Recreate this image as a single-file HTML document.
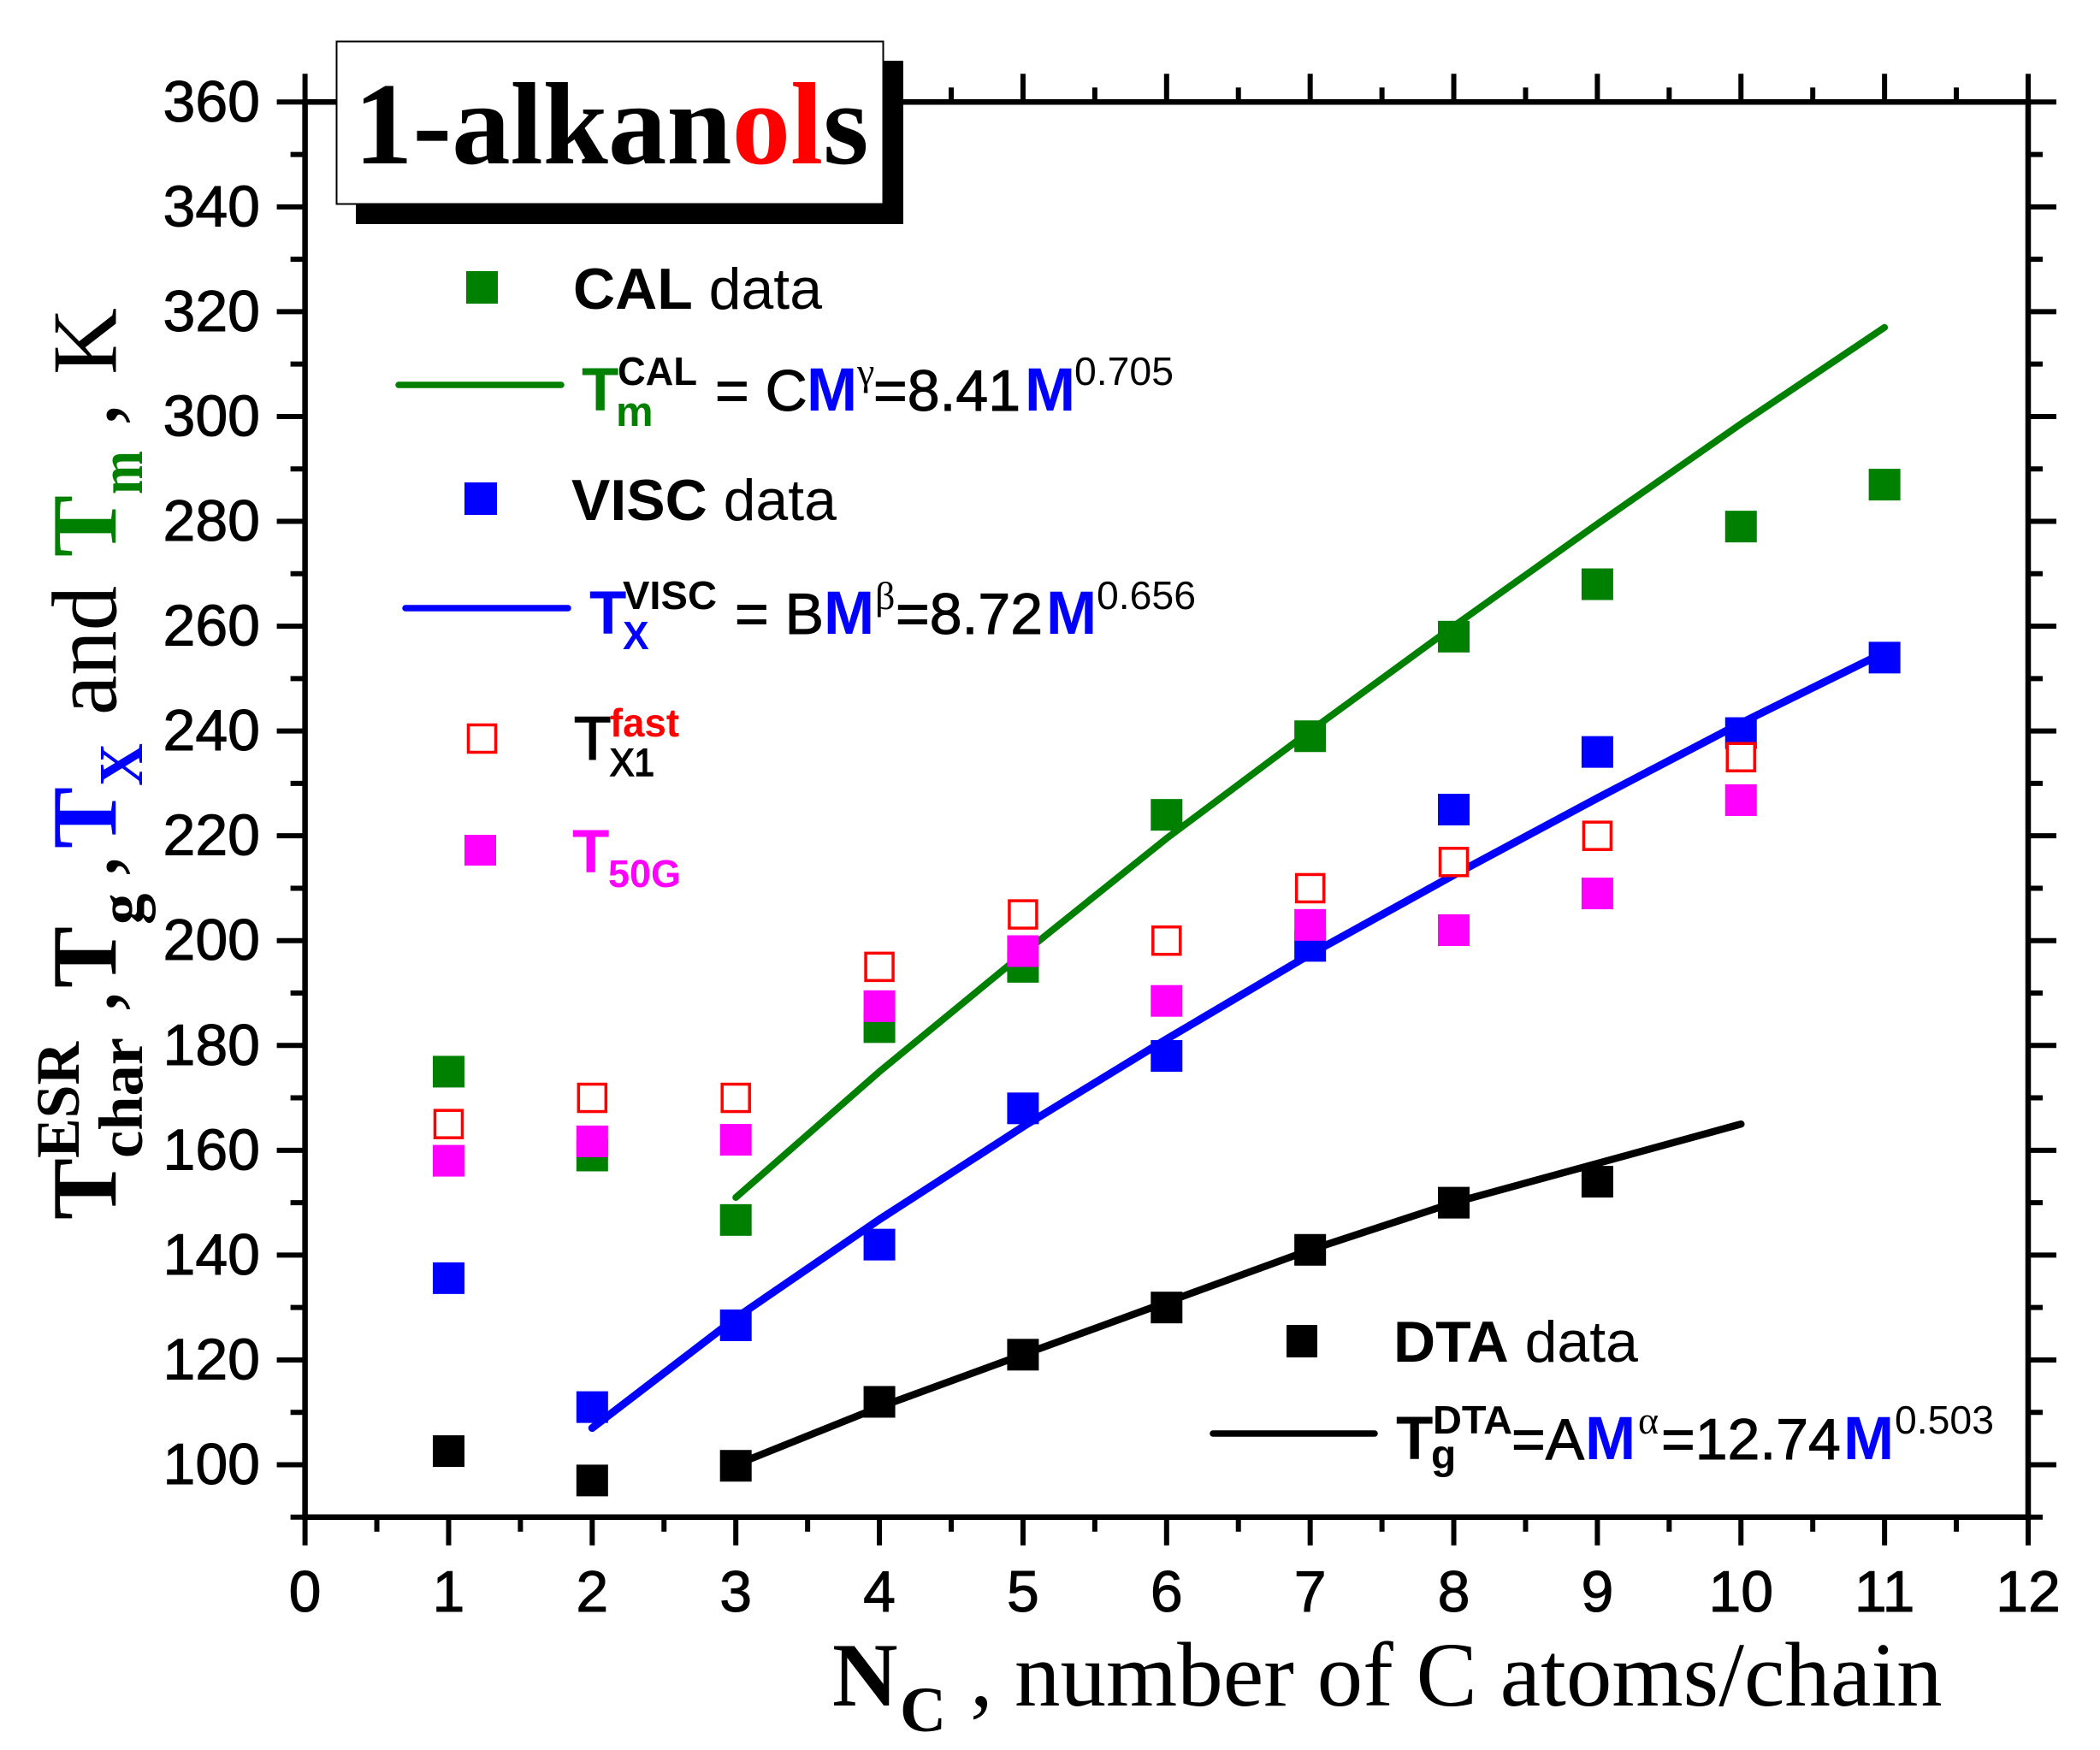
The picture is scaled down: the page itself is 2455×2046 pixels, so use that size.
<!DOCTYPE html>
<html lang="en">
<head>
<meta charset="utf-8">
<title>1-alkanols characteristic temperatures</title>
<style>
html,body{margin:0;padding:0;background:#fff;width:2455px;height:2046px;overflow:hidden}
svg{display:block}
.s{font-family:"Liberation Sans",Arial,sans-serif}
.r{font-family:"Liberation Serif","Times New Roman",serif}
.b{font-weight:bold}
.h{stroke:#000;stroke-width:1}
.h2{stroke:#000;stroke-width:1.6}
</style>
</head>
<body>
<svg id="chart" xmlns="http://www.w3.org/2000/svg" width="2455" height="2046" viewBox="0 0 2455 2046">
<rect width="2455" height="2046" fill="#fff"/>
<g id="axes"></g>
<g id="lines"></g>
<g id="marks"></g>

<g>
  <rect x="416" y="71" width="640" height="191" fill="#000"/>
  <rect x="393.5" y="48.5" width="639" height="190" fill="#fff" stroke="#000" stroke-width="2"/>
  <text class="r b" x="414" y="191" font-size="137" fill="#000">1-alkan<tspan fill="#f00">ol</tspan>s</text>
</g>

<g font-size="108">
  <text class="r b" transform="rotate(-90)" x="-1426" y="135.5">T</text>
  <text class="r b" transform="rotate(-90)" x="-1354" y="92" font-size="72" textLength="136" lengthAdjust="spacingAndGlyphs">ESR</text>
  <text class="r b" transform="rotate(-90)" x="-1354" y="166" font-size="73" textLength="141" lengthAdjust="spacingAndGlyphs">char</text>
  <text class="r" transform="rotate(-90)" x="-1184" y="135.5">,</text>
  <text class="r b" transform="rotate(-90)" x="-1155" y="135.5">T</text>
  <text class="r b" transform="rotate(-90)" x="-1081" y="166" font-size="73">g</text>
  <text class="r" transform="rotate(-90)" x="-1026" y="135.5">,</text>
  <text class="r b" fill="#00f" transform="rotate(-90)" x="-992" y="135.5">T</text>
  <text class="r b" fill="#00f" transform="rotate(-90)" x="-919" y="166" font-size="73" textLength="50" lengthAdjust="spacingAndGlyphs">X</text>
  <text class="r" transform="rotate(-90)" x="-836" y="135.5" textLength="151" lengthAdjust="spacingAndGlyphs">and</text>
  <text class="r b" fill="#008000" transform="rotate(-90)" x="-651" y="135.5">T</text>
  <text class="r b" fill="#008000" transform="rotate(-90)" x="-578" y="166" font-size="73" textLength="51" lengthAdjust="spacingAndGlyphs">m</text>
  <text class="r" transform="rotate(-90)" x="-498" y="135.5">,</text>
  <text class="r" transform="rotate(-90)" x="-438" y="135.5">K</text>
</g>

<g class="r">
  <text class="r b" x="973" y="1994" font-size="106">N</text>
  <text class="r b" x="1052" y="2024" font-size="75">C</text>
  <text class="r" x="1134" y="1994" font-size="107">,</text>
  <text class="r" x="1186" y="1994" font-size="107">number of C atoms/chain</text>
</g>

<g class="s" fill="#000">
  <rect x="545" y="317" width="37" height="38" fill="#008000"/>
  <text class="s" x="670" y="361" font-size="68"><tspan font-weight="bold">CAL</tspan> data</text>
  <line x1="466" y1="450" x2="656" y2="450" stroke="#008000" stroke-width="7.5" stroke-linecap="round"/>
  <text class="s b" x="680" y="480" font-size="71" fill="#008000">T</text>
  <text class="s b" x="722" y="450" font-size="46" textLength="93" lengthAdjust="spacingAndGlyphs">CAL</text>
  <text class="s b" x="720" y="498" font-size="49" fill="#008000">m</text>
  <text class="s h" x="836" y="480" font-size="68">= C</text>
  <text class="s b" x="943" y="480" font-size="71" fill="#00f">M</text>
  <text class="r" x="1002" y="450" font-size="46">γ</text>
  <text class="s h" x="1021" y="480" font-size="68">=8.41</text>
  <text class="s b" x="1198" y="480" font-size="71" fill="#00f">M</text>
  <text class="s" x="1256" y="450" font-size="46" textLength="116" lengthAdjust="spacingAndGlyphs">0.705</text>
</g>

<g class="s" fill="#000">
  <rect x="543" y="564" width="38" height="38" fill="#00f"/>
  <text class="s" x="668" y="608" font-size="68"><tspan font-weight="bold">VISC</tspan> data</text>
  <line x1="474" y1="711" x2="664" y2="711" stroke="#00f" stroke-width="7.5" stroke-linecap="round"/>
  <text class="s b" x="689" y="741" font-size="71" fill="#00f">T</text>
  <text class="s b" x="728" y="712" font-size="46" textLength="110" lengthAdjust="spacingAndGlyphs">VISC</text>
  <text class="s b" x="728" y="759" font-size="46" fill="#00f">X</text>
  <text class="s h" x="859" y="741" font-size="68">= B</text>
  <text class="s b" x="963" y="741" font-size="71" fill="#00f">M</text>
  <text class="r" x="1023" y="712" font-size="46">β</text>
  <text class="s h" x="1047" y="741" font-size="68">=8.72</text>
  <text class="s b" x="1223" y="741" font-size="71" fill="#00f">M</text>
  <text class="s" x="1282" y="712" font-size="46" textLength="116" lengthAdjust="spacingAndGlyphs">0.656</text>
</g>

<g class="s">
  <rect x="547.5" y="847.5" width="32" height="32" fill="#fff" stroke="#f00" stroke-width="3.5"/>
  <text class="s h2" x="671" y="888" font-size="71">T</text>
  <text class="s b" x="713" y="861" font-size="46" fill="#f00" textLength="81" lengthAdjust="spacingAndGlyphs">fast</text>
  <text class="s h2" x="713" y="907" font-size="45" textLength="52" lengthAdjust="spacingAndGlyphs">X1</text>
</g>

<g class="s">
  <rect x="543" y="976" width="37" height="36" fill="#f0f"/>
  <text class="s b" x="669" y="1020" font-size="71" fill="#f0f">T</text>
  <text class="s b" x="711" y="1037" font-size="45" fill="#f0f">50G</text>
</g>

<g class="s" fill="#000">
  <rect x="1504" y="1549" width="36" height="38"/>
  <text class="s" x="1629" y="1592" font-size="68"><tspan font-weight="bold">DTA</tspan> data</text>
  <line x1="1418" y1="1676" x2="1607" y2="1676" stroke="#000" stroke-width="7.5" stroke-linecap="round"/>
  <text class="s b" x="1632" y="1706" font-size="71">T</text>
  <text class="s b" x="1675" y="1676" font-size="46" textLength="93" lengthAdjust="spacingAndGlyphs">DTA</text>
  <text class="s b" x="1673" y="1717" font-size="48">g</text>
  <text class="s h" x="1767" y="1706" font-size="68">=A</text>
  <text class="s b" x="1853" y="1706" font-size="71" fill="#00f">M</text>
  <text class="r" x="1915" y="1676" font-size="46">α</text>
  <text class="s h" x="1942" y="1706" font-size="68">=12.74</text>
  <text class="s b" x="2155" y="1706" font-size="71" fill="#00f">M</text>
  <text class="s" x="2215" y="1676" font-size="46" textLength="116" lengthAdjust="spacingAndGlyphs">0.503</text>
</g>
</svg>

<script>
const xMajorTicks = [0,1,2,3,4,5,6,7,8,9,10,11,12];
const xMinorTicks = [0.5,1.5,2.5,3.5,4.5,5.5,6.5,7.5,8.5,9.5,10.5,11.5];
const yMajorTicks = [100,120,140,160,180,200,220,240,260,280,300,320,340,360];
const yMinorTicks = [90,110,130,150,170,190,210,230,250,270,290,310,330,350];

const calX = [1,2,3,4,5,6,7,8,9,10,11];
const calValues = [175,159,146.7,183.5,195,224,239,258,268,279,287];
const viscX = [1,2,3,4,5,6,7,8,9,10,11];
const viscValues = [135.6,111,126.6,142,168,178,199,225,236,239.6,254];
const dtaX = [1,2,3,4,5,6,7,8,9];
const dtaValues = [102.6,97,99.8,112,121,130,141,150,154];
const fastX = [1,2,3,4,5,6,7,8,9,10];
const fastValues = [165,170,170,195,205,200,210,215,220,235];
const t50gX = [1,2,3,4,5,6,7,8,9,10];
const t50gValues = [158,161.7,162,187.5,198,188.5,203,202,209,226.8];

const calFitX = [3,4,5,6,7,8,9,10,11];
const calFitValues = [151,175,197.5,219.5,240,260,279.5,298.6,317];
const viscFitX = [2,3,4,5,6,7,8,9,10,11];
const viscFitValues = [107,128,146.8,164.5,181.2,197.4,212.5,227.2,241.5,255];
const dtaFitX = [3,4,5,6,7,8,9,10];
const dtaFitValues = [100,111,121,131,141,150,157.5,165];

const NS = 'http://www.w3.org/2000/svg';
function xPos(v){ return 356.6 + (v - 0) * (2371 - 356.6) / 12; }
function yPos(v){ return 1712.5 - (v - 100) * (1712.5 - 119.3) / 260; }

function make(tag, attrs, parent){
  const el = document.createElementNS(NS, tag);
  for (const k in attrs) el.setAttribute(k, attrs[k]);
  parent.appendChild(el);
  return el;
}

const axes = document.getElementById('axes');
const lines = document.getElementById('lines');
const marks = document.getElementById('marks');
const left = xPos(0), right = xPos(12), top_ = yPos(360), bottom = yPos(90);

function drawFrameLine(x1, y1, x2, y2, name){
  const el = make('line', {x1:x1, y1:y1, x2:x2, y2:y2, stroke:'#000', 'stroke-width':6.5, 'stroke-linecap':'square'}, axes);
  
  
}
drawFrameLine(left, top_, right, top_, 'top-axis-line');
drawFrameLine(left, bottom, right, bottom, 'bottom-axis-line');
drawFrameLine(left, top_, left, bottom, 'left-axis-line');
drawFrameLine(right, top_, right, bottom, 'right-axis-line');

function drawTick(x1, y1, x2, y2, name){
  const el = make('line', {x1:x1, y1:y1, x2:x2, y2:y2, stroke:'#000', 'stroke-width':6}, axes);
  
  
}
const MAJOR = 33, MINOR = 17;
xMajorTicks.forEach(function(v){
  drawTick(xPos(v), bottom, xPos(v), bottom + MAJOR, 'x-major-tick');
  drawTick(xPos(v), top_, xPos(v), top_ - MAJOR, 'x-top-major-tick');
  const t = make('text', {x:xPos(v), y:1884, 'font-size':68, 'text-anchor':'middle', 'class':'s h'}, axes);
  t.textContent = String(v);
  
  
});
xMinorTicks.forEach(function(v){
  drawTick(xPos(v), bottom, xPos(v), bottom + MINOR, 'x-minor-tick');
  drawTick(xPos(v), top_, xPos(v), top_ - MINOR, 'x-top-minor-tick');
});
yMajorTicks.forEach(function(v){
  drawTick(left, yPos(v), left - MAJOR, yPos(v), 'y-major-tick');
  drawTick(right, yPos(v), right + MAJOR, yPos(v), 'y-right-major-tick');
  const t = make('text', {x:304, y:yPos(v) + 22.5, 'font-size':68, 'text-anchor':'end', 'class':'s h'}, axes);
  t.textContent = String(v);
  
  
});
yMinorTicks.forEach(function(v){
  drawTick(left, yPos(v), left - MINOR, yPos(v), 'y-minor-tick');
  drawTick(right, yPos(v), right + MINOR, yPos(v), 'y-right-minor-tick');
});

function drawLine(xs, ys, color, width, name){
  const pts = xs.map(function(x, i){ return xPos(x).toFixed(1) + ',' + yPos(ys[i]).toFixed(1); }).join(' ');
  const el = make('polyline', {points:pts, fill:'none', stroke:color, 'stroke-width':width, 'stroke-linecap':'round', 'stroke-linejoin':'round'}, lines);
  
  
}
drawLine(calFitX, calFitValues, '#008000', 8, 'cal-fit-line');
drawLine(viscFitX, viscFitValues, '#00f', 9, 'visc-fit-line');
drawLine(dtaFitX, dtaFitValues, '#000', 8.5, 'dta-fit-line');

const SIZE = 37;
function drawSquares(xs, ys, color, name){
  xs.forEach(function(x, i){
    const el = make('rect', {x:xPos(x) - SIZE / 2, y:yPos(ys[i]) - SIZE / 2, width:SIZE, height:SIZE, fill:color}, marks);
    
    
  });
}
function drawOpenSquares(xs, ys, color, name){
  xs.forEach(function(x, i){
    const el = make('rect', {x:xPos(x) - 16, y:yPos(ys[i]) - 16, width:32, height:32, fill:'#fff', stroke:color, 'stroke-width':3.5}, marks);
    
    
  });
}
drawSquares(calX, calValues, '#008000', 'cal-point');
drawSquares(viscX, viscValues, '#00f', 'visc-point');
drawSquares(dtaX, dtaValues, '#000', 'dta-point');
drawOpenSquares(fastX, fastValues, '#f00', 'fast-point');
drawSquares(t50gX, t50gValues, '#f0f', 't50g-point');
</script>
</body>
</html>
